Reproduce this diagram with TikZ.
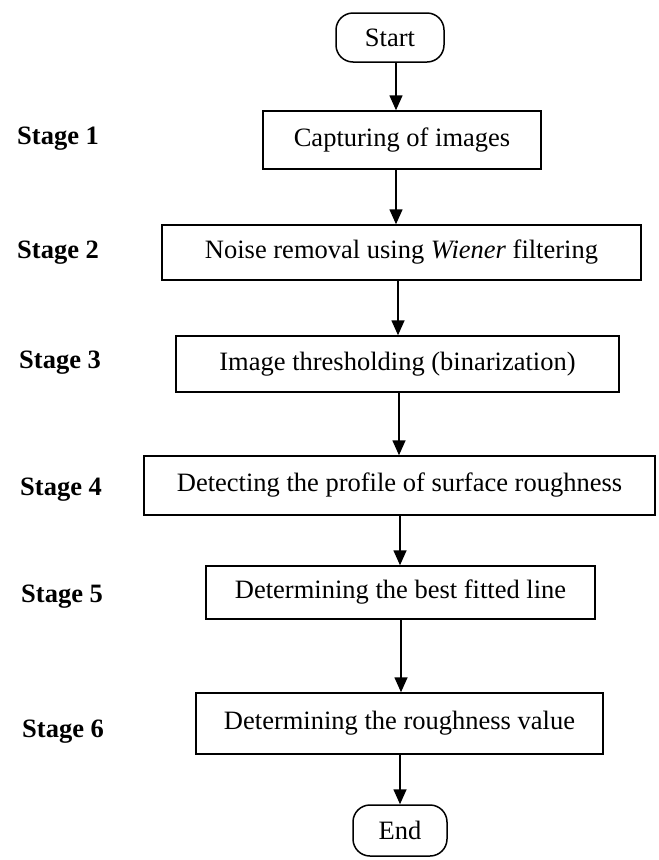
\documentclass[tikz,border=0pt]{standalone}
\usepackage{fontspec}
\setmainfont{Liberation Serif}
\usetikzlibrary{arrows.meta}
\tikzset{
  every node/.style={font=\fontsize{26.5}{30}\selectfont},
  procbox/.style={draw=black, line width=1.5pt, rectangle, inner sep=0pt, align=center},
  termbox/.style={draw=black, line width=1.5pt, rectangle, rounded corners=17pt, inner sep=0pt, align=center},
  stagelbl/.style={inner sep=0pt, anchor=base west, font=\fontsize{26.5}{30}\selectfont\bfseries},
  flow/.style={-{Triangle[length=15pt,width=13pt]}, line width=1.6pt}
}
\begin{document}
\begin{tikzpicture}[x=1pt,y=-1pt]
\useasboundingbox[fill=white] (0,0) rectangle (659,860);
% terminals and process boxes
\node[termbox, minimum width=108pt, minimum height=49pt] (start) at (390,37.5) {Start};
\node[procbox, minimum width=278pt, minimum height=58pt] (b1) at (402,140) {Capturing of images};
\node[procbox, minimum width=479pt, minimum height=55pt] (b2) at (401.5,252.5) {Noise removal using \textit{Wiener} filtering};
\node[procbox, minimum width=443pt, minimum height=56pt] (b3) at (397.5,364) {Image thresholding (binarization)};
\node[procbox, minimum width=511pt, minimum height=59pt] (b4) at (399.5,485.5) {Detecting the profile of surface roughness};
\node[procbox, minimum width=389pt, minimum height=53pt] (b5) at (400.5,592.5) {Determining the best fitted line};
\node[procbox, minimum width=407pt, minimum height=61pt] (b6) at (399.5,723.5) {Determining the roughness value};
\node[termbox, minimum width=94pt, minimum height=51pt] (end) at (400,830.5) {End};
% stage labels
\node[stagelbl] (s1) at (17,144) {Stage 1};
\node[stagelbl] (s2) at (17,258) {Stage 2};
\node[stagelbl] (s3) at (19,368) {Stage 3};
\node[stagelbl] (s4) at (20,495) {Stage 4};
\node[stagelbl] (s5) at (21,602) {Stage 5};
\node[stagelbl] (s6) at (22,737) {Stage 6};
% arrow columns
\coordinate (x1) at (396,0);
\coordinate (x2) at (396,0);
\coordinate (x3) at (398,0);
\coordinate (x4) at (399,0);
\coordinate (x5) at (400,0);
\coordinate (x6) at (401,0);
\coordinate (x7) at (400,0);
\draw[flow] (start.south -| x1) -- (b1.north -| x1);
\draw[flow] (b1.south -| x2) -- (b2.north -| x2);
\draw[flow] (b2.south -| x3) -- (b3.north -| x3);
\draw[flow] (b3.south -| x4) -- (b4.north -| x4);
\draw[flow] (b4.south -| x5) -- (b5.north -| x5);
\draw[flow] (b5.south -| x6) -- (b6.north -| x6);
\draw[flow] (b6.south -| x7) -- (end.north -| x7);
\end{tikzpicture}
\end{document}
